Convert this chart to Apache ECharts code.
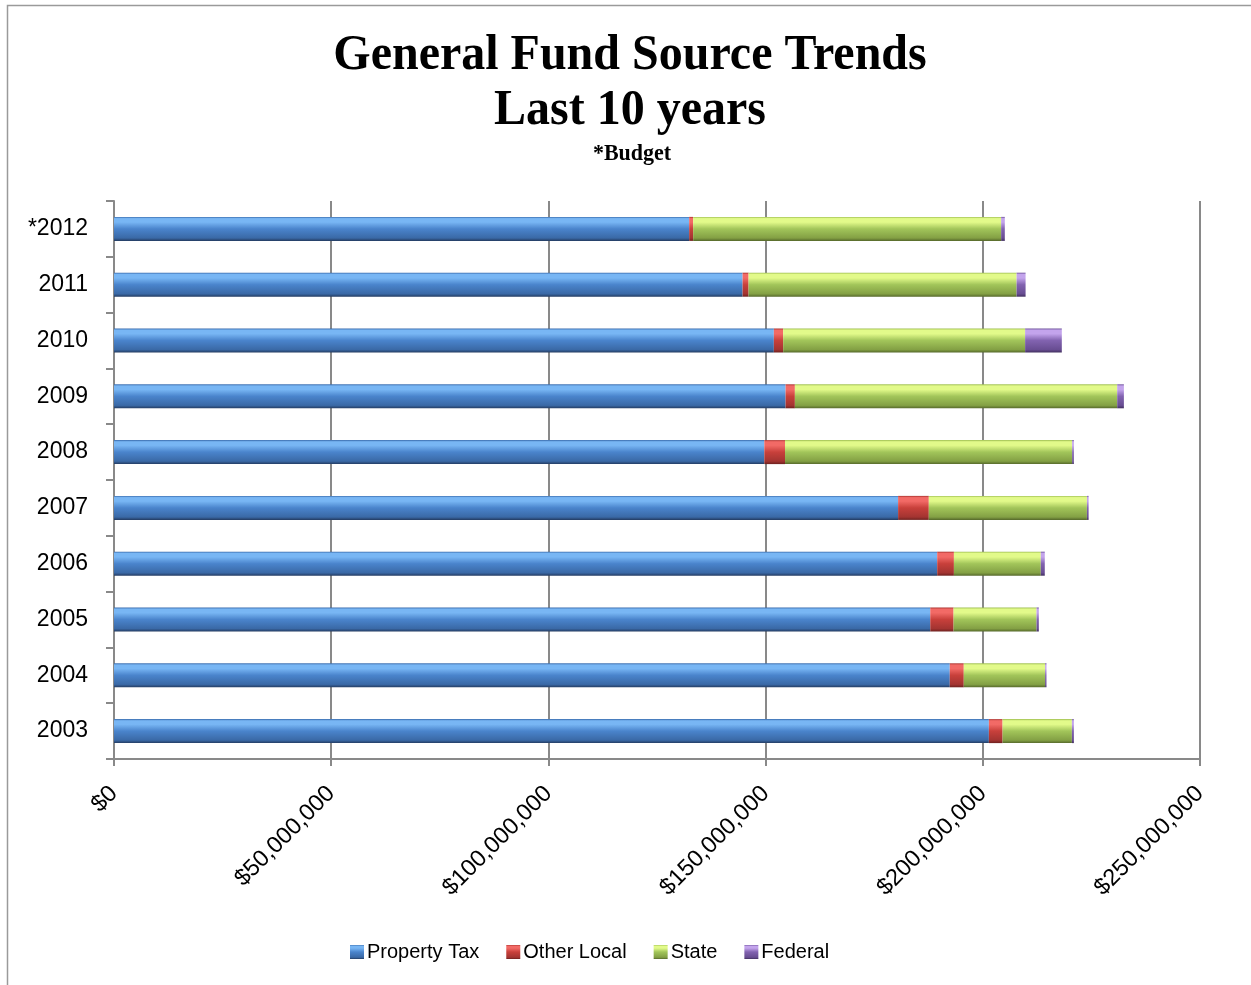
<!DOCTYPE html>
<html>
<head>
<meta charset="utf-8">
<title>General Fund Source Trends</title>
<script src="https://cdn.jsdelivr.net/npm/echarts@6/dist/echarts.min.js"></script>
<style>
  html, body { margin: 0; padding: 0; background: #ffffff; }
  #chart { width: 1251px; height: 985px; }
</style>
</head>
<body>
<div id="chart"></div>
<script>
// Fiscal years, bottom to top (the asterisk marks a budgeted year)
const years = ['2003', '2004', '2005', '2006', '2007', '2008', '2009', '2010', '2011', '*2012'];

// General fund revenue by source, in dollars
const propertyTax = [201400000, 192400000, 187900000, 189500000, 180500000, 149700000, 154600000, 151900000, 144700000, 132400000];
const otherLocal  = [3150000, 3220000, 5370000, 3850000, 7070000, 4770000, 2140000, 2140000, 1380000, 920000];
const stateAid    = [15960000, 18720000, 19100000, 20000000, 36400000, 66100000, 74200000, 55700000, 61700000, 70900000];
const federalAid  = [460000, 320000, 530000, 920000, 390000, 390000, 1540000, 8450000, 2070000, 850000];

// Axis ticks
const axisMax = 250000000;
const axisStep = 50000000;

const seriesNames = ['Property Tax', 'Other Local', 'State', 'Federal'];

// Vertical shading that gives each bar a rounded, lit look
function shade(edgeTop, light, mid, low, edgeBottom) {
  return new echarts.graphic.LinearGradient(0, 0, 0, 1, [
    { offset: 0, color: edgeTop },
    { offset: 0.07, color: light },
    { offset: 0.22, color: light },
    { offset: 0.5, color: mid },
    { offset: 0.88, color: low },
    { offset: 1, color: edgeBottom }
  ]);
}

const fills = [
  shade('#3a6cad', '#78b6f4', '#4a84cc', '#3a69a6', '#243c62'),
  shade('#a8312d', '#f26a66', '#c8403b', '#a33431', '#6e211f'),
  shade('#9fbf52', '#e2fa8a', '#a2c55a', '#83a044', '#56692b'),
  shade('#6d519a', '#c3a4ec', '#8263b0', '#684d92', '#42305f')
];

function dollars(v) {
  return '$' + Math.round(v).toString().replace(/\B(?=(\d{3})+(?!\d))/g, ',');
}

const chart = echarts.init(document.getElementById('chart'), null, { renderer: 'canvas' });

const seriesData = [propertyTax, otherLocal, stateAid, federalAid];
const serif = '"Liberation Serif", "Times New Roman", serif';
const sans = '"Liberation Sans", Arial, sans-serif';

chart.setOption({
  backgroundColor: '#ffffff',
  animation: false,
  graphic: [
    {
      type: 'polyline',
      shape: { points: [[7.5, 1000], [7.5, 5.5], [1260, 5.5]] },
      style: { stroke: '#9a9a9a', lineWidth: 1.5, fill: null },
      silent: true
    },
    {
      type: 'text', x: 630, y: 56, scaleY: 1.06,
      style: { text: 'General Fund Source Trends', font: 'bold 48px ' + serif, fill: '#000', align: 'center', verticalAlign: 'middle' }
    },
    {
      type: 'text', x: 630, y: 111, scaleY: 1.06,
      style: { text: 'Last 10 years', font: 'bold 48px ' + serif, fill: '#000', align: 'center', verticalAlign: 'middle' }
    },
    {
      type: 'text', x: 632, y: 154, scaleY: 1.08,
      style: { text: '*Budget', font: 'bold 22px ' + serif, fill: '#000', align: 'center', verticalAlign: 'middle' }
    }
  ],
  legend: {
    data: seriesNames,
    left: 345,
    top: 937,
    itemWidth: 14,
    itemHeight: 14,
    itemGap: 27,
    icon: 'rect',
    textStyle: { fontFamily: sans, fontSize: 20, color: '#000', padding: [0, 0, 0, -2] }
  },
  grid: {
    left: 114,
    right: 51,
    top: 201,
    height: 558,
    containLabel: false
  },
  xAxis: {
    type: 'value',
    min: 0,
    max: axisMax,
    interval: axisStep,
    axisLine: { show: true, lineStyle: { color: '#898989', width: 2 } },
    axisTick: { show: true, length: 7, lineStyle: { color: '#898989', width: 2 } },
    splitLine: { show: true, lineStyle: { color: '#898989', width: 2 } },
    axisLabel: {
      rotate: 45,
      margin: 31,
      color: '#000',
      fontFamily: sans,
      fontSize: 23.5,
      formatter: dollars
    }
  },
  yAxis: {
    type: 'category',
    data: years,
    axisLine: { show: true, lineStyle: { color: '#898989', width: 2 } },
    axisTick: { show: true, length: 8, lineStyle: { color: '#898989', width: 2 } },
    splitLine: { show: false },
    axisLabel: {
      margin: 26,
      color: '#000',
      fontFamily: sans,
      fontSize: 23
    }
  },
  series: seriesNames.map((name, i) => ({
    name: name,
    type: 'bar',
    stack: 'sources',
    barWidth: 24,
    data: seriesData[i],
    itemStyle: { color: fills[i] },
    emphasis: { disabled: true }
  }))
});
</script>
</body>
</html>
